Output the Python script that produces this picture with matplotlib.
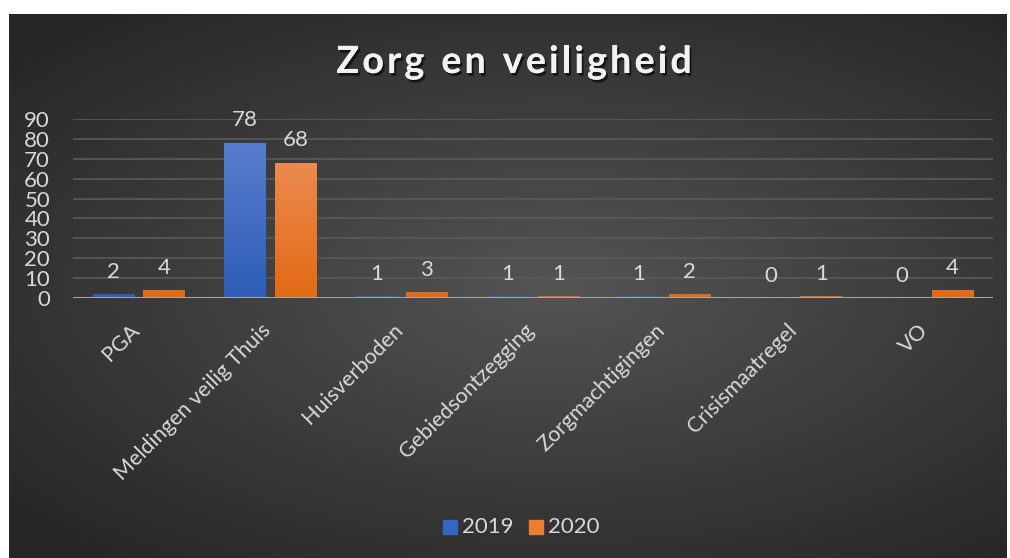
import numpy as np
import matplotlib
matplotlib.use("Agg")
import matplotlib.pyplot as plt
import matplotlib.patheffects as pe
from matplotlib.transforms import ScaledTranslation, blended_transform_factory

categories = ["PGA", "Meldingen veilig Thuis", "Huisverboden", "Gebiedsontzegging",
              "Zorgmachtigingen", "Crisismaatregel", "VO"]
series_names = ["2019", "2020"]
values_2019 = [2, 78, 1, 1, 1, 0, 0]
values_2020 = [4, 68, 3, 1, 2, 1, 4]
y_ticks = [0, 10, 20, 30, 40, 50, 60, 70, 80, 90]
title = "Zorg en veiligheid"

plt.rcParams['font.family'] = ['Lato', 'DejaVu Sans']
W, H = 1010, 558
fig = plt.figure(figsize=(W / 100, H / 100), dpi=100)
fig.patch.set_facecolor("white")

# background panel with radial gradient
bg = fig.add_axes([9 / W, 0, (1007 - 9) / W, (H - 14) / H])
bg.set_axis_off()
yy, xx = np.mgrid[-1:1:300j, -1:1:600j]
r = np.sqrt(((xx - 0.1) * 0.85) ** 2 + (yy * 0.95) ** 2)
r = np.clip(r / 1.25, 0, 1)
c_in = np.array([0x54, 0x54, 0x54]) / 255
c_out = np.array([0x26, 0x26, 0x26]) / 255
img = c_in[None, None, :] * (1 - r[..., None]) + c_out[None, None, :] * r[..., None]
bg.imshow(img, aspect="auto", extent=[0, 1, 0, 1], origin="lower")
bg.set_xlim(0, 1)
bg.set_ylim(0, 1)

ax = fig.add_axes([73 / W, (H - 298) / H, (993 - 73) / W, (298 - 119) / H])
ax.patch.set_alpha(0)
for s in ax.spines.values():
    s.set_visible(False)

x = np.arange(len(categories))
bw = 0.315
gap = 0.07
off = (bw + gap) / 2

def grad_bars(xs, vals, top_col, bot_col, zorder=3):
    bars = ax.bar(xs, vals, bw, color=bot_col, zorder=zorder, linewidth=0)
    grad = np.linspace(0, 1, 100)[:, None]
    tc = np.array(matplotlib.colors.to_rgb(top_col))
    bc = np.array(matplotlib.colors.to_rgb(bot_col))
    gimg = bc[None, None, :] * (1 - grad[..., None]) + tc[None, None, :] * grad[..., None]
    for b, v in zip(bars, vals):
        if v <= 0:
            continue
        x0 = b.get_x()
        im = ax.imshow(gimg, extent=[x0, x0 + bw, 0, 90], origin="lower",
                       aspect="auto", zorder=zorder + 0.1)
        im.set_clip_path(b)
    return bars

grad_bars(x - off, values_2019, "#5f83d0", "#2d5db8")
grad_bars(x + off, values_2020, "#f09462", "#e26a15")

ax.set_xlim(-0.5, len(categories) - 0.5)
ax.set_ylim(0, 90)
ax.set_yticks(y_ticks)
ax.set_xticks([])
ax.tick_params(axis="y", length=0, pad=16.5, labelsize=16, labelcolor="#d9d9d9")
ax.grid(axis="y", color="#5a5a5a", linewidth=1.2, zorder=0)
ax.set_axisbelow(True)
ax.axhline(0, color="#a6a6a6", linewidth=2.2, zorder=5)

# data labels
for xs, vals in ((x - off, values_2019), (x + off, values_2020)):
    for xi, v in zip(xs, vals):
        ax.annotate(str(v), (xi, v), xytext=(0, 9), textcoords="offset points",
                    ha="center", va="bottom", fontsize=16, color="#d9d9d9", zorder=6)

# category labels
trans = blended_transform_factory(ax.transData, ax.transAxes)
for xi, lab in zip(x, categories):
    ax.text(xi, 0, lab, rotation=45, ha="right", va="top", fontsize=15.5,
            color="#d9d9d9",
            transform=trans + ScaledTranslation(5 / 100, -22 / 100, fig.dpi_scale_trans))

# title with letter spacing
fig.canvas.draw()
renderer = fig.canvas.get_renderer()
tkw = dict(fontsize=27, fontweight="bold", color="#f2f2f2")
widths = []
for ch in title:
    t = fig.text(0, 0, ch if ch != " " else "n", **tkw)
    w = t.get_window_extent(renderer).width
    if ch == " ":
        w *= 0.5
    widths.append(w)
    t.remove()
spacing = 3.3
total = sum(widths) + spacing * (len(title) - 1)
cx = 514 - total / 2
for ch, w in zip(title, widths):
    if ch != " ":
        fig.text(cx / W, 1 - 62 / H, ch, ha="left", va="center",
                 path_effects=[pe.withSimplePatchShadow(offset=(1.5, -2), shadow_rgbFace="black", alpha=0.6),
                               pe.Normal()], **tkw)
    cx += w + spacing

# legend
fig.patches.append(matplotlib.patches.Rectangle((443 / W, 1 - 534 / H), 14 / W, 14 / H,
                   transform=fig.transFigure, color="#3566c4", figure=fig))
fig.text(462 / W, 1 - 527 / H, series_names[0], ha="left", va="center", fontsize=16, color="#d9d9d9")
fig.patches.append(matplotlib.patches.Rectangle((529 / W, 1 - 534 / H), 14 / W, 14 / H,
                   transform=fig.transFigure, color="#ed7d31", figure=fig))
fig.text(548 / W, 1 - 527 / H, series_names[1], ha="left", va="center", fontsize=16, color="#d9d9d9")

fig.savefig("out.png", dpi=100, facecolor=fig.get_facecolor())
